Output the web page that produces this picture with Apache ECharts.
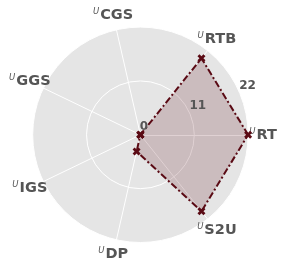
<!DOCTYPE html>
<html><head><meta charset="utf-8">
<script src="https://cdn.jsdelivr.net/npm/echarts@6/dist/echarts.min.js"></script>
<style>html,body{margin:0;padding:0;background:#fff}#c{width:287px;height:270px}</style>
</head><body><div id="c"></div>
<script>
const categories = ['RT', 'RTB', 'CGS', 'GGS', 'IGS', 'DP', 'S2U'];
const values = [22, 20, 0, 0, 0, 3.5, 20];
const tickValues = [0, 11, 22];
const axisMin = 0;
const axisMax = 22;
const tickStep = 11;

const CX = 140.4, CY = 134.8, R = 107.7;
const lineColor = '#5a0a14';
const xSymbol = 'path://M0 2.5L2.5 0L5 2.5L7.5 0L10 2.5L7.5 5L10 7.5L7.5 10L5 7.5L2.5 10L0 7.5L2.5 5Z';

const chart = echarts.init(document.getElementById('c'), null, {renderer: 'canvas'});
chart.setOption({
  backgroundColor: '#ffffff',
  animation: false,
  textStyle: {fontFamily: 'DejaVu Sans'},
  radar: {
    center: [CX, CY],
    radius: R,
    startAngle: 0,
    shape: 'circle',
    splitNumber: 2,
    nameGap: 15,
    indicator: categories.map(c => ({name: c, min: axisMin, max: axisMax})),
    axisName: {
      formatter: n => '{u|U}{b|' + n + '}',
      align: 'center',
      verticalAlign: 'middle',
      rich: {
        u: {fontSize: 8.5, fontStyle: 'italic', fontWeight: 'normal', color: '#555555', verticalAlign: 'top', lineHeight: 9, padding: [0, 1, 0, 0], fontFamily: 'DejaVu Sans'},
        b: {fontSize: 14.5, fontWeight: 'bold', color: '#555555', lineHeight: 16, fontFamily: 'DejaVu Sans'}
      }
    },
    splitArea: {show: true, areaStyle: {color: ['#e5e5e5', '#e5e5e5']}},
    splitLine: {lineStyle: {color: '#ffffff', width: 1}},
    axisLine: {lineStyle: {color: '#ffffff', width: 1}},
    axisTick: {show: false},
    axisLabel: {show: false}
  },
  polar: {center: [CX, CY], radius: R},
  angleAxis: {
    type: 'value', min: 0, max: 360, startAngle: 22.5,
    axisLine: {show: false}, axisTick: {show: false}, axisLabel: {show: false}, splitLine: {show: false}
  },
  radiusAxis: {
    type: 'value', min: axisMin, max: axisMax, interval: tickStep, z: 10,
    axisLine: {show: false}, axisTick: {show: false}, splitLine: {show: false},
    axisLabel: {
      color: '#555555', fontWeight: 'bold', fontSize: 12, fontFamily: 'DejaVu Sans',
      align: 'left', verticalAlign: 'bottom', margin: 2,
      formatter: v => tickValues.indexOf(v) >= 0 ? String(v) : ''
    }
  },
  series: [{
    type: 'radar',
    z: 3,
    symbol: xSymbol,
    symbolSize: 8,
    data: [{value: values}],
    lineStyle: {color: lineColor, width: 2, type: [7, 2.5, 2, 2.5]},
    itemStyle: {color: lineColor},
    areaStyle: {color: 'rgba(90,10,20,0.27)'}
  }]
});
</script>
</body></html>
